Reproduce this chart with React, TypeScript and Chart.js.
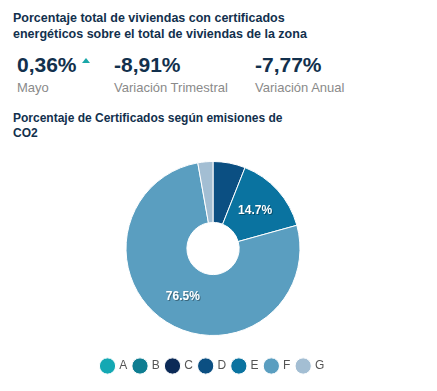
import React, { useEffect, useRef } from "react";
import { Chart, registerables } from "chart.js";

Chart.register(...registerables);

const categories = ["A", "B", "C", "D", "E", "F", "G"];
const values = [0, 0, 0, 6.0, 14.7, 76.5, 2.8];
const colors = ["#14a8b3", "#0e7d91", "#0b2a57", "#0b4f82", "#0a73a0", "#5a9ec0", "#a3bed3"];

const titleMain = "Porcentaje total de viviendas con certificados energéticos sobre el total de viviendas de la zona";
const statValues = ["0,36%", "-8,91%", "-7,77%"];
const statLabels = ["Mayo", "Variación Trimestral", "Variación Anual"];
const chartTitle = "Porcentaje de Certificados según emisiones de CO2";

const FONT = "'Liberation Sans', Arial, Helvetica, sans-serif";

const labelPlugin = {
  id: "sliceLabels",
  afterDatasetsDraw(chart: any) {
    const ctx = chart.ctx;
    const meta = chart.getDatasetMeta(0);
    const data = chart.data.datasets[0].data as number[];
    ctx.save();
    ctx.font = "bold 12px " + FONT;
    ctx.textAlign = "center";
    ctx.textBaseline = "middle";
    meta.data.forEach((arc: any, i: number) => {
      const v = data[i];
      if (v < 10) return;
      const p = arc.tooltipPosition();
      const t = v.toFixed(1) + "%";
      ctx.fillStyle = "rgba(0,0,0,0.35)";
      ctx.fillText(t, p.x + 1, p.y + 1);
      ctx.fillStyle = "#ffffff";
      ctx.fillText(t, p.x, p.y);
    });
    ctx.restore();
  },
};

export default function App() {
  const ref = useRef<HTMLCanvasElement>(null);
  useEffect(() => {
    if (!ref.current) return;
    const chart = new Chart(ref.current, {
      type: "doughnut",
      data: {
        labels: categories,
        datasets: [
          {
            data: values,
            backgroundColor: colors,
            borderColor: "#ffffff",
            borderWidth: 1,
            radius: 87,
          },
        ],
      },
      options: {
        animation: false,
        responsive: false,
        cutout: "30%",
        layout: { padding: { top: 1, bottom: 0 } },
        plugins: {
          legend: {
            position: "bottom",
            labels: {
              usePointStyle: true,
              pointStyle: "circle",
              boxWidth: 11.5,
              boxHeight: 11.5,
              padding: 7,
              color: "#555555",
              font: { size: 12, family: FONT },
            },
          },
          tooltip: { enabled: false },
        },
      },
      plugins: [labelPlugin],
    });
    return () => chart.destroy();
  }, []);

  return (
    <div style={{ position: "relative", width: 437, height: 391, fontFamily: FONT, margin: "-8px", overflow: "hidden" }}>
      <div
        style={{
          position: "absolute",
          left: 13,
          top: 10,
          width: 320,
          fontSize: 12.5,
          fontWeight: "bold",
          color: "#12304d",
          lineHeight: "16px",
        }}
      >
        {titleMain}
      </div>
      {statValues.map((v, i) => (
        <div key={i} style={{ position: "absolute", left: [17, 114, 255][i], top: 52 }}>
          <div style={{ fontSize: 21, fontWeight: "bold", color: "#12304d", lineHeight: "26px" }}>
            {v}
            {i === 0 && (
              <span
                style={{
                  display: "inline-block",
                  width: 0,
                  height: 0,
                  marginLeft: 5,
                  verticalAlign: "9px",
                  borderLeft: "4.5px solid transparent",
                  borderRight: "4.5px solid transparent",
                  borderBottom: "5px solid #1aa7a8",
                }}
              />
            )}
          </div>
          <div style={{ fontSize: 13, color: "#8a8a8a", lineHeight: "16px", marginTop: 2 }}>{statLabels[i]}</div>
        </div>
      ))}
      <div
        style={{
          position: "absolute",
          left: 13,
          top: 111,
          width: 290,
          fontSize: 12,
          fontWeight: "bold",
          color: "#12304d",
          lineHeight: "15px",
        }}
      >
        {chartTitle}
      </div>
      <canvas ref={ref} width={410} height={239} style={{ position: "absolute", left: 8, top: 143 }} />
    </div>
  );
}
